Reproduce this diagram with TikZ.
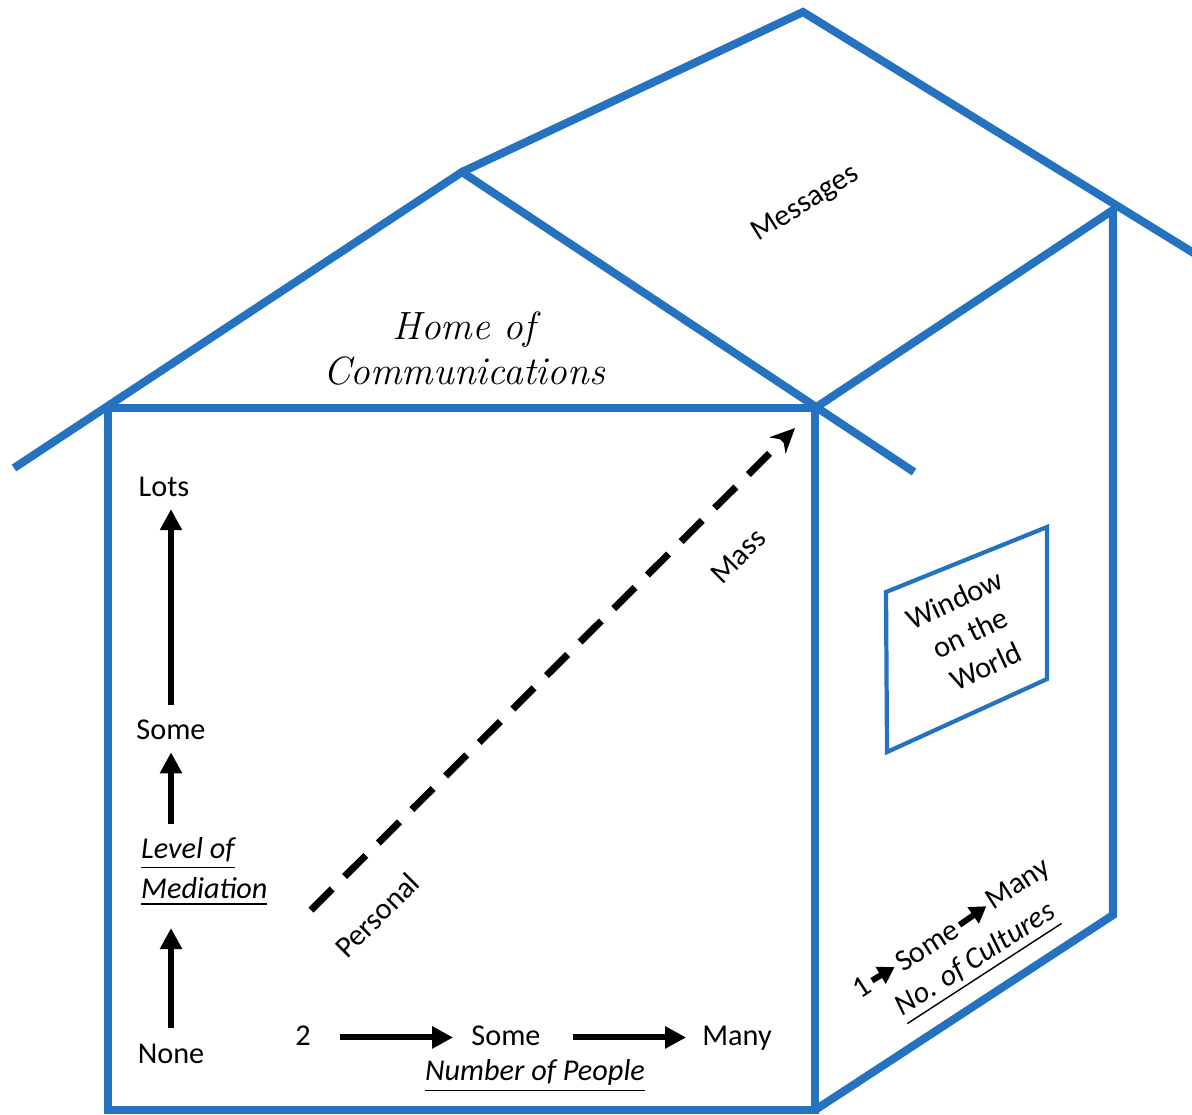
\documentclass[tikz,border=0pt]{standalone}
\usepackage{fontspec}
\newfontfamily\calib{Carlito}
\usetikzlibrary{arrows.meta}
\definecolor{houseblue}{RGB}{36,114,192}

\begin{document}
\begin{tikzpicture}[x=0.01cm,y=-0.01cm,
  every node/.style={font=\calib\fontsize{8.6}{10.5}\selectfont,inner sep=1pt},
  lbl/.style={font=\calib\itshape\fontsize{8.6}{11.4}\selectfont},
  wall/.style={draw=houseblue,line width=2.3pt},
  pane/.style={draw=houseblue,line width=1.2pt},
  arr/.style={-{Triangle[width=6pt,length=6pt]},line width=1.7pt},
  smallarr/.style={-{Triangle[width=5.4pt,length=4.6pt]},line width=1.7pt},
  dasharr/.style={-{Stealth[width=6.5pt,length=7pt]},line width=2pt,dash pattern=on 8.5pt off 5pt}
  ]
  \clip (0,0) rectangle (1192,1114);
  \draw[wall] (14,468) -- (462,172) -- (914,472);
  \draw[wall] (462,172) -- (803,12) -- (1205,260);
  \draw[wall] (815,408) -- (1113,210) -- (1113,915) -- (815,1110);
  \draw[wall] (108,1110) -- (108,408) -- (815,408) -- (815,1110) -- cycle;
  \draw[pane] (886,592) -- (1047,527) -- (1047,679) -- (887,752) -- cycle;

  \node[font=\rmfamily\itshape\fontsize{11.2}{12.8}\selectfont,align=center] (home) at (464,349) {Home of\\Communications};
  \node[rotate=32] (msg) at (806,204) {Messages};
  \node[rotate=25,align=center] (wintext) at (970,633) {Window\\on the\\World};

  \node (lots) at (164,487) {Lots};
  \node (msome) at (171,730) {Some};
  \node[lbl,align=left,anchor=west] (level) at (137,872) {\underline{Level of}\\\underline{Mediation}};
  \node (none) at (171,1054) {None};
  \draw[arr,shorten <=3pt,shorten >=2.3pt] (msome.north) -- (msome.north |- lots.south);
  \draw[arr,shorten <=2.8pt,shorten >=2.3pt] (level.north -| msome.south) -- (msome.south);
  \draw[arr,shorten <=3.4pt,shorten >=5pt] (none.north) -- (none.north |- level.south);

  \node[anchor=base] (two) at (303,1045) {2};
  \node[anchor=base] (psome) at (506,1045) {Some};
  \node[anchor=base] (many) at (737,1045) {Many};
  \node[lbl] (npeople) at (535,1076) {\underline{Number of People}};
  \draw[arr,shorten <=7pt,shorten >=4pt] (two.mid east) -- (psome.mid west);
  \draw[arr,shorten <=8pt,shorten >=3.4pt] (psome.mid east) -- (many.mid west);

  \coordinate (pstart) at (311,910);
  \coordinate (mend) at (795,428);
  \draw[dasharr] (pstart) -- (mend);
  \node[rotate=45] (personal) at (377,915) {Personal};
  \node[rotate=45] (mass) at (738,556) {Mass};

  \node[rotate=33] (cone) at (862,987) {1};
  \node[rotate=33] (csome) at (927,946) {Some};
  \node[rotate=33] (cmany) at (1019,885) {Many};
  \node[lbl,rotate=33] (cult) at (977,962) {\underline{No. of Cultures}};
  \draw[smallarr] (cone.east) -- (csome.west);
  \draw[smallarr] (csome.east) -- (cmany.west);
\end{tikzpicture}
\end{document}
